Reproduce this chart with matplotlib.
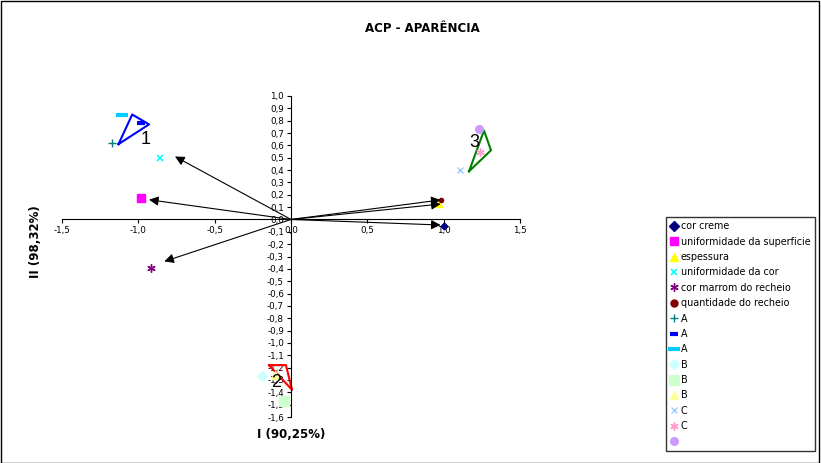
import matplotlib
matplotlib.use("Agg")
import matplotlib.pyplot as plt
from matplotlib.lines import Line2D
from matplotlib.patches import Rectangle
from matplotlib.ticker import FuncFormatter, MultipleLocator

plt.rcParams['font.family'] = ['DejaVu Sans']

# Variable loadings (arrow tips) and their markers
var_names = ["cor creme", "uniformidade da superficie", "espessura",
             "uniformidade da cor", "cor marrom do recheio", "quantidade do recheio"]
var_x = [1.0, -0.98, 0.97, -0.86, -0.92, 0.98]
var_y = [-0.05, 0.17, 0.125, 0.50, -0.39, 0.155]
arrow_x = [0.98, -0.93, 0.98, -0.76, -0.83, 0.98]
arrow_y = [-0.045, 0.16, 0.125, 0.51, -0.34, 0.158]

# Sample scores
sample_labels = ["A", "A", "A", "B", "B", "B", "C", "C", " "]
sample_x = [-1.17, -0.98, -1.11, -0.19, -0.046, -0.105, 1.11, 1.24, 1.23]
sample_y = [0.62, 0.78, 0.85, -1.27, -1.47, -1.26, 0.40, 0.55, 0.73]

# Group outlines
group_names = ["1", "2", "3"]
group_poly_x = [[-1.13, -1.04, -0.93, -1.13],
                [-0.144, -0.033, 0.007, -0.144],
                [1.166, 1.264, 1.31, 1.166]]
group_poly_y = [[0.61, 0.85, 0.77, 0.61],
                [-1.18, -1.18, -1.38, -1.18],
                [0.39, 0.72, 0.56, 0.39]]
group_label_x = [-0.95, -0.098, 1.20]
group_label_y = [0.645, -1.32, 0.62]

x_ticks = [-1.5, -1.0, -0.5, 0.0, 0.5, 1.0, 1.5]

var_styles = [
    dict(marker="D", color="#000080", ms=3.5),
    dict(marker="s", color="#FF00FF", ms=6),
    dict(marker="^", color="#FFFF00", ms=4),
    dict(marker="x", color="#00FFFF", ms=5, mew=1.2),
    dict(marker=(6, 2, 0), color="#800080", ms=6, mew=1.0),
    dict(marker="o", color="#800000", ms=3),
]
legend_var_ms = [5, 6, 6, 5, 6, 5]
sample_styles = [
    dict(marker="+", color="#008080", ms=6, mew=1.0),
    dict(marker="_", color="#0000FF", ms=6, mew=3),
    dict(marker="_", color="#00CCFF", ms=9, mew=3),
    dict(marker="D", color="#CCFFFF", ms=5),
    dict(marker="s", color="#CCFFCC", ms=7),
    dict(marker="^", color="#FFFF99", ms=6),
    dict(marker="x", color="#99CCFF", ms=5, mew=1.0),
    dict(marker=(6, 2, 0), color="#FF99CC", ms=6, mew=1.0),
    dict(marker="o", color="#CC99FF", ms=5.5),
]
group_colors = ["#0000FF", "#FF0000", "#008000"]

fig = plt.figure(figsize=(8.21, 4.63), dpi=100)
fig.patches.append(Rectangle((0.001, 0.001), 0.997, 0.997, transform=fig.transFigure,
                             fill=False, edgecolor="black", linewidth=1.0))
ax = fig.add_axes([62 / 821, 1 - 417 / 463, 458 / 821, 321 / 463])
ax.set_xlim(-1.5, 1.5)
ax.set_ylim(-1.6, 1.0)

for s in ["top", "right"]:
    ax.spines[s].set_visible(False)
ax.spines["left"].set_position(("data", 0))
ax.spines["bottom"].set_position(("data", 0))
ax.set_xticks(x_ticks)
ax.yaxis.set_major_locator(MultipleLocator(0.1))
fmt = FuncFormatter(lambda v, p: f"{v:.1f}".replace(".", ",").replace("-0,0", "0,0"))
ax.xaxis.set_major_formatter(fmt)
ax.yaxis.set_major_formatter(fmt)
ax.tick_params(axis="both", labelsize=6.3, length=3, width=0.8, direction="out", pad=2)

handles = []
labels = []
for i, name in enumerate(var_names):
    st = var_styles[i]
    ax.plot(var_x[i], var_y[i], linestyle="none", marker=st["marker"], color=st["color"],
            markersize=st["ms"], markeredgewidth=st.get("mew", 1.0), zorder=3)
    handles.append(Line2D([], [], linestyle="none", marker=st["marker"], color=st["color"],
                          markersize=legend_var_ms[i], markeredgewidth=st.get("mew", 1.0)))
    labels.append(name)

for i, lab in enumerate(sample_labels):
    st = sample_styles[i]
    ax.plot(sample_x[i], sample_y[i], linestyle="none", marker=st["marker"], color=st["color"],
            markersize=st["ms"], markeredgewidth=st.get("mew", 1.0), zorder=3)
    handles.append(Line2D([], [], linestyle="none", marker=st["marker"], color=st["color"],
                          markersize=st["ms"], markeredgewidth=st.get("mew", 1.0)))
    labels.append(lab)

for i in range(len(arrow_x)):
    ax.annotate("", xy=(arrow_x[i], arrow_y[i]), xytext=(0, 0),
                arrowprops=dict(arrowstyle="-|>", color="black", lw=0.8,
                                mutation_scale=14, shrinkA=0, shrinkB=0), zorder=4)

for i, g in enumerate(group_names):
    ax.plot(group_poly_x[i], group_poly_y[i], color=group_colors[i], lw=1.5, zorder=2)
    ax.text(group_label_x[i], group_label_y[i], g, fontsize=13, ha="center", va="center",
            color="black", zorder=5, family="Liberation Sans")

fig.text(422 / 821, 1 - 28 / 463, "ACP - APARÊNCIA", fontsize=8.5, fontweight="bold",
         ha="center", va="center")
fig.text(291 / 821, 1 - 435 / 463, "I (90,25%)", fontsize=8.5, fontweight="bold",
         ha="center", va="center")
fig.text(35 / 821, 1 - 242 / 463, "II (98,32%)", fontsize=8.5, fontweight="bold",
         ha="center", va="center", rotation=90)

leg = fig.legend(handles, labels, loc="upper left",
                 bbox_to_anchor=(666 / 821, 1 - 217 / 463),
                 fontsize=6.9, frameon=True, fancybox=False, edgecolor="black",
                 handlelength=0.8, handletextpad=0.3, borderpad=0.45,
                 labelspacing=0.56, borderaxespad=0)
leg.get_frame().set_linewidth(1.0)

fig.savefig("out.png", dpi=100)
